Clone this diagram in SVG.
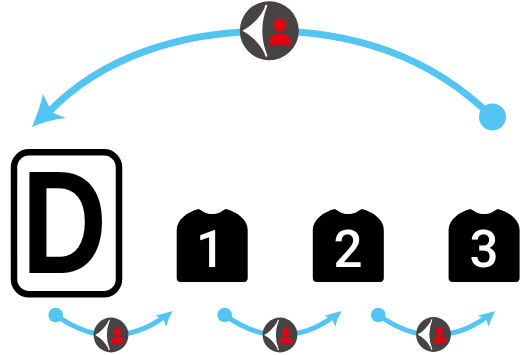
<svg xmlns="http://www.w3.org/2000/svg" xmlns:xlink="http://www.w3.org/1999/xlink" width="521" height="355" viewBox="0 0 521 355">
<style>
.arc{fill:none;stroke:#54c4f3;stroke-linecap:round}
.head{fill:#54c4f3}
.num{font-family:Roboto,"Liberation Sans",sans-serif;font-weight:500;font-size:51px;fill:#fff;text-anchor:middle}
</style>
<defs>
<path id="shirt" d="M22 0C27 3 30 5 35.500 5C41 5 44 3 49 0C61 3 71 11 71 21V69Q71 73 67 73H4Q0 73 0 69V21C0 11 10 3 22 0Z" fill="#000"/>
<g id="badge">
<circle r="29.500" fill="#474342"/>
<path d="M-27 0C-17 -5 -10 -13 -5 -22Q-11 0 -5 22C-10 13 -17 5 -27 0Z" fill="#fff"/>
<path d="M-3 -25Q-13 0 -3 25" fill="none" stroke="#fff" stroke-width="2" stroke-linecap="round"/>
<circle cx="10.500" cy="-5.700" r="6.300" fill="#e60012"/>
<path d="M-1 14C0 6 5 2.500 10.500 2.500C17 2.500 21.500 6 22.500 14Z" fill="#e60012"/>
</g>
<g id="smallarc">
<path class="arc" stroke-width="5" d="M0 0C18 13 37 20 55 20C75 20 92 14 108 2"/>
<path class="head" d="M117 -4L99.500 0.700Q104 2 107.500 4L110.500 11.700Q112 4 117 -4Z"/>
<circle r="7.300" fill="#54c4f3"/>
</g>
</defs>
<g id="connectors">
<path class="arc" stroke-width="7" d="M492 117C430 55 350 31 269 31C180 31 100 58 48 113"/>
<path class="head" d="M32 127Q40 108 43 94L50 108L53 113L66 118Q48 120 32 127Z"/>
<circle cx="492.500" cy="117" r="13.500" fill="#54c4f3"/>
<use xlink:href="#smallarc" href="#smallarc" x="55.700" y="315"/>
<use xlink:href="#smallarc" href="#smallarc" x="224.700" y="315"/>
<use xlink:href="#smallarc" href="#smallarc" x="378.300" y="315"/>
</g>
<g id="badge-top"><use xlink:href="#badge" href="#badge" x="269.300" y="30.700"/></g>
<g id="badge-1"><use xlink:href="#badge" href="#badge" transform="translate(111 335) scale(.59)"/></g>
<g id="badge-2"><use xlink:href="#badge" href="#badge" transform="translate(280 335) scale(.59)"/></g>
<g id="badge-3"><use xlink:href="#badge" href="#badge" transform="translate(433.500 334.500) scale(.59)"/></g>
<g id="node-d">
<rect x="14" y="152.300" width="105" height="142" rx="15" fill="#fff" stroke="#000" stroke-width="6.500"/>
<text transform="translate(21.500 273.300) scale(.81 1)" font-family="'Liberation Sans',Arial,sans-serif" font-weight="700" font-size="146" fill="#000">D</text>
</g>
<g id="node-1"><use xlink:href="#shirt" href="#shirt" x="176.700" y="209"/><text class="num" x="210.500" y="266.700">1</text></g>
<g id="node-2"><use xlink:href="#shirt" href="#shirt" x="312.800" y="209"/><text class="num" x="348" y="266.700">2</text></g>
<g id="node-3"><use xlink:href="#shirt" href="#shirt" x="448.600" y="209"/><text class="num" x="484" y="266.700">3</text></g>
</svg>
